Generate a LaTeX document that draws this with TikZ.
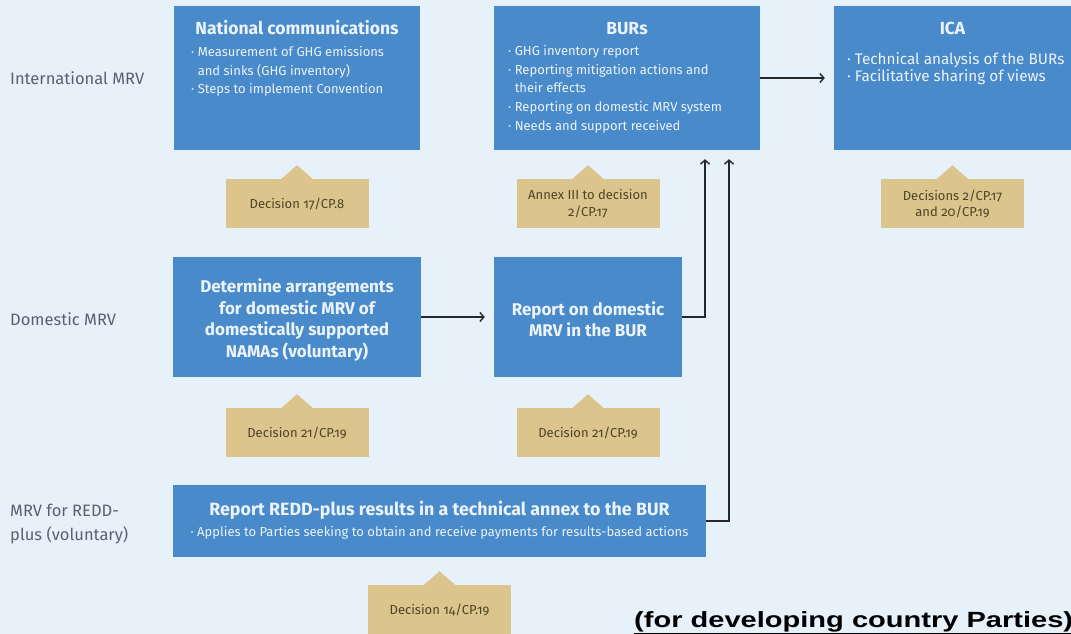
\documentclass[tikz,border=0pt]{standalone}
\usepackage{fontspec}
\setmainfont{Fira Sans}[Numbers=OldStyle]
\newfontfamily\notefont{Liberation Sans}
\usetikzlibrary{positioning,arrows.meta}

\definecolor{bgc}{RGB}{231,241,250}
\definecolor{boxc}{RGB}{72,138,202}
\definecolor{boxtxt}{RGB}{236,243,250}
\definecolor{tagc}{RGB}{219,197,140}
\definecolor{tagtxt}{RGB}{80,66,38}
\definecolor{rowc}{RGB}{88,98,108}
\definecolor{linec}{RGB}{38,40,44}

\newcommand\itm{·\ }
\newcommand\indt{\phantom{·\ }}

\begin{document}
\begin{tikzpicture}[x=1pt, y=-1pt, >={Straight Barb[length=4pt,width=9pt]},
    box/.style = {fill=boxc, inner sep=0pt},
    tagbox/.style = {fill=tagc, minimum width=143pt, minimum height=49pt, inner sep=0pt, text=tagtxt, align=center, font=\fontsize{13}{16.5}\selectfont},
    ttl/.style = {text=boxtxt, anchor=base, inner sep=0pt, font=\bfseries\fontsize{17.5}{20}\selectfont},
    lst/.style = {text=boxtxt, anchor=north west, inner sep=0pt, align=left, font=\fontsize{13}{18.7}\selectfont},
    big/.style = {text=boxtxt, inner sep=0pt, align=center, font=\bfseries\fontsize{17}{21.5}\selectfont},
    row/.style = {text=rowc, anchor=west, inner sep=0pt, align=left, font=\fontsize{16.5}{24}\selectfont},
    conn/.style = {->, draw=linec, line width=1.4pt, shorten >=9pt}]
    \fill[bgc] (0,0) rectangle (1071,634);
    \useasboundingbox (0,0) rectangle (1071,634);

    % row labels
    \node[row] (lint) at (10,78) {International MRV};
    \node[row] (ldom) at (10,319) {Domestic MRV};
    \node[row] (lredd) at (10,524) {MRV for REDD-\\plus (voluntary)};

    % international MRV
    \node[box, minimum width=246pt, minimum height=144pt] (nc) at (297,78) {};
    \node[box, minimum width=266pt, minimum height=144pt] (bur) at (627,78) {};
    \node[box, minimum width=237pt, minimum height=144pt] (ica) at (952.5,78) {};
    \node[ttl] at (297,35) {National communications};
    \node[lst] at (191,46) {\itm Measurement of GHG emissions\\\indt and sinks (GHG inventory)\\\itm Steps to implement Convention};
    \node[ttl] at (627,35) {BURs};
    \node[lst] at (508,45) {\itm GHG inventory report\\\itm Reporting mitigation actions and\\\indt their effects\\\itm Reporting on domestic MRV system\\\itm Needs and support received};
    \node[ttl] at (952.5,35) {ICA};
    \node[lst, font=\fontsize{15.3}{17.5}\selectfont] at (847,52) {\itm Technical analysis of the BURs\\\itm Facilitative sharing of views};

    % domestic MRV
    \node[box, minimum width=248pt, minimum height=120pt] (det) at (297,317) {};
    \node[box, minimum width=188pt, minimum height=120pt] (rep) at (588,317) {};
    \node[big] at (297,320) {Determine arrangements\\for domestic MRV of\\domestically supported\\NAMAs (voluntary)};
    \node[big] at (588,319) {Report on domestic\\MRV in the BUR};

    % REDD-plus
    \node[box, minimum width=533pt, minimum height=72pt] (redd) at (439.5,521) {};
    \node[ttl, font=\bfseries\fontsize{17.8}{20}\selectfont] at (439.5,515) {Report REDD-plus results in a technical annex to the BUR};
    \node[ttl, font=\fontsize{13}{15}\selectfont] at (439.5,536) {\itm Applies to Parties seeking to obtain and receive payments for results-based actions};

    % decisions
    \node[tagbox] (t1) [below=29pt of nc] {Decision 17/CP.8};
    \node[tagbox] (t3) [below=29pt of ica] {Decisions 2/CP.17\\and 20/CP.19};
    \node[tagbox] (t4) [below=31pt of det] {Decision 21/CP.19};
    \node[tagbox] (t5) [below=31pt of rep] {Decision 21/CP.19};
    \node[tagbox] (t2) at (t5 |- t1) {Annex III to decision\\2/CP.17};
    \node[tagbox] (t6) [below=28pt of redd] {Decision 14/CP.19};
    \foreach \t in {t1,t2,t3,t4,t5,t6}
        \fill[tagc] ([xshift=-16pt]\t.north) -- ([yshift=14pt]\t.north) -- ([xshift=16pt]\t.north) -- cycle;

    % connectors
    \coordinate (j1) at (705,0);
    \coordinate (j2) at (729,0);
    \draw[conn] (bur.east) -- (ica.west);
    \draw[conn] (det) -- (rep);
    \draw[conn] (rep.east) -| (bur.south -| j1);
    \draw[conn] (redd.east) -| (bur.south -| j2);

    \node[anchor=base west, inner sep=0pt, font=\notefont\bfseries\fontsize{22}{26}\selectfont] (note) at (634,627) {\scalebox{1.32}[1]{\underline{(for developing country Parties)}}};
\end{tikzpicture}
\end{document}
